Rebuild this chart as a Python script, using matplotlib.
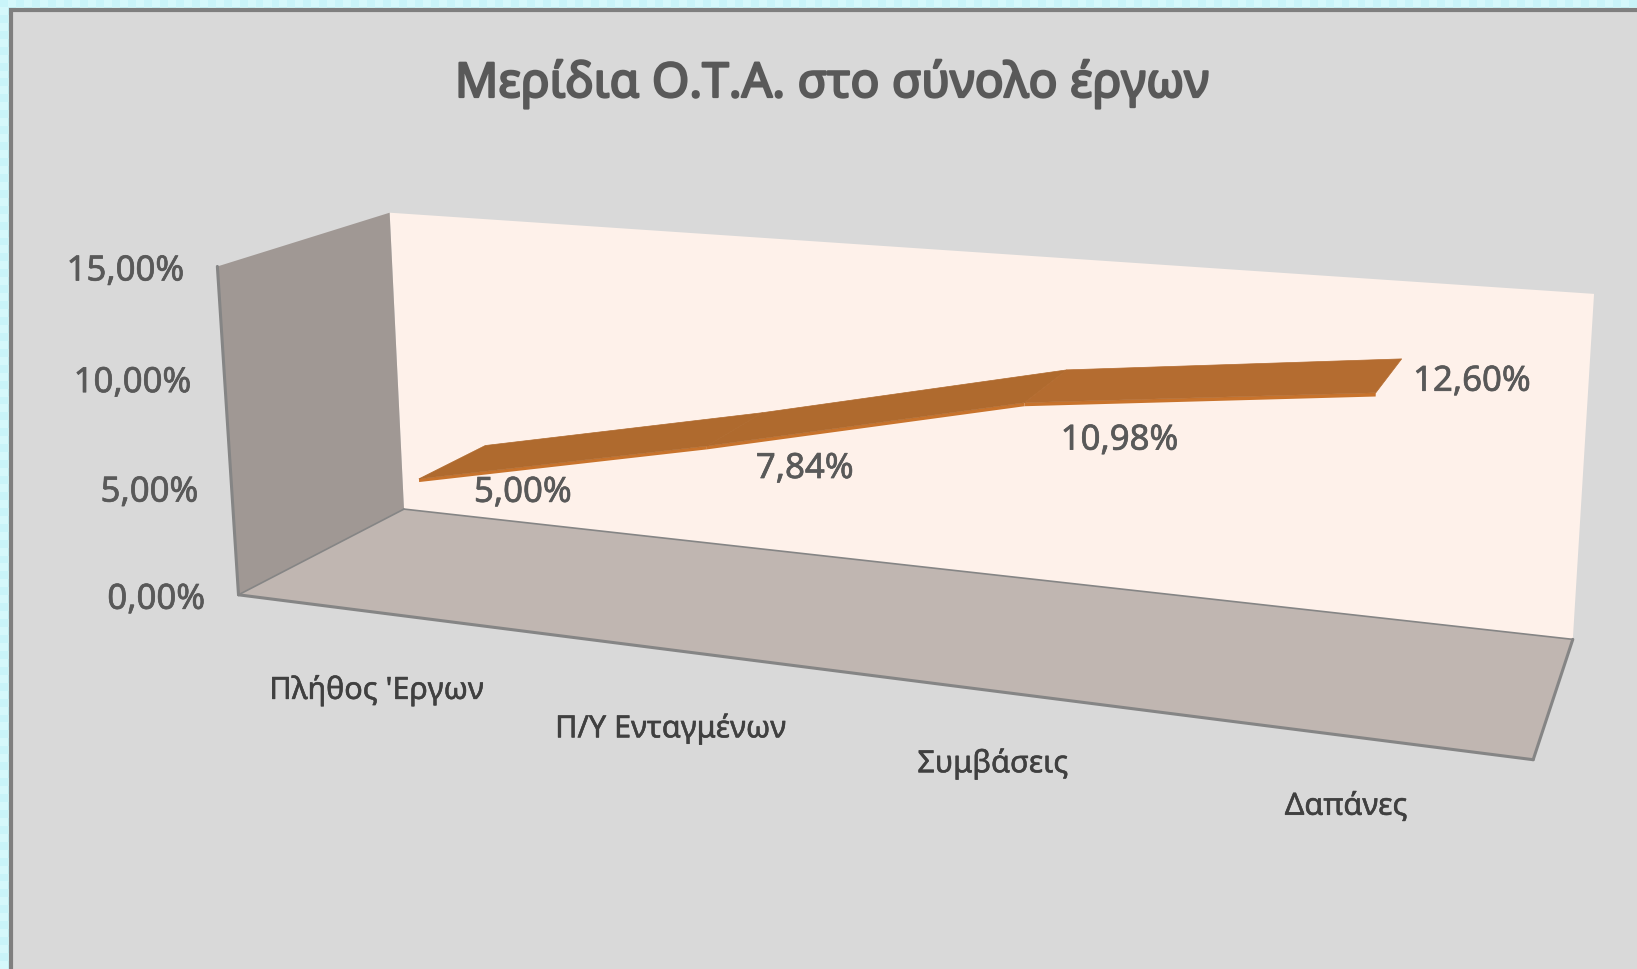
import numpy as np
import matplotlib
matplotlib.use("Agg")
import matplotlib.pyplot as plt
import matplotlib.patheffects as pe
from matplotlib.patches import Polygon, Rectangle

# ---- data ----
categories = ["Πλήθος 'Εργων", "Π/Υ Ενταγμένων", "Συμβάσεις", "Δαπάνες"]
shares = [5.00, 7.84, 10.98, 12.60]
axis_ticks = [0, 5, 10, 15]
title = "Μερίδια Ο.Τ.Α. στο σύνολο έργων"

# ---- styling / layout ----
plt.rcParams["font.family"] = ["Noto Sans", "DejaVu Sans"]
W, H = 1637, 970
BG, OUT, OUT2, FRAME = "#d9d9d9", "#c9f4f9", "#d5f8fb", "#7f7f7f"
TXT = "#595959"
Y_MAX = 15.0
N = len(categories)

# camera: box corners (cat, value, depth) -> image position, solved as a projective map
box = [(0, 0, 0), (0, Y_MAX, 0), (0, Y_MAX, 1), (0, 0, 1), (N, Y_MAX, 1), (N, 0, 1), (N, 0, 0)]
img = [(239, 596), (217, 267), (390, 214), (403.5, 510), (1594, 295), (1573, 640), (1533, 761)]
A = []
b = []
for (X, Y, Z), (u, v) in zip(box, img):
    A.append([X, Y, Z, 1, 0, 0, 0, 0, -u * X, -u * Y, -u * Z])
    b.append(u)
    A.append([0, 0, 0, 0, X, Y, Z, 1, -v * X, -v * Y, -v * Z])
    b.append(v)
sol = np.linalg.lstsq(np.array(A, float), np.array(b, float), rcond=None)[0]
P = np.append(sol, 1.0).reshape(3, 4)


def proj(x, y, z):
    p = P @ np.array([x, y, z, 1.0])
    return p[0] / p[2], p[1] / p[2]


fig = plt.figure(figsize=(W / 100, H / 100), dpi=100, facecolor=OUT)
ax = fig.add_axes([0, 0, 1, 1])

# faint tiled page background behind the chart area
tile = (np.indices((H // 8 + 1, W // 8 + 1)).sum(axis=0) % 2)
ax.imshow(tile, extent=(0, W, H, 0), aspect="auto", interpolation="bilinear",
          cmap=matplotlib.colors.ListedColormap([OUT, OUT2]), zorder=0)
ax.set_xlim(0, W)
ax.set_ylim(H, 0)
ax.axis("off")

# chart area
ax.add_patch(Rectangle((11, 11), W, H, fc=BG, ec=FRAME, lw=3, zorder=1))


def face(corners, fc, ec=None, lw=0, z=2):
    ax.add_patch(Polygon([proj(*c) for c in corners], closed=True, fc=fc,
                         ec=ec if ec else fc, lw=lw, zorder=z, joinstyle="round"))


# walls
face([(0, 0, 1), (N, 0, 1), (N, Y_MAX, 1), (0, Y_MAX, 1)], "#fef1ea")
face([(0, 0, 0), (0, 0, 1), (0, Y_MAX, 1), (0, Y_MAX, 0)], "#a09894")
face([(0, 0, 0), (N, 0, 0), (N, 0, 1), (0, 0, 1)], "#c0b6b1")


def edge(p0, p1, color="#858585", lw=2.2):
    a, c = proj(*p0), proj(*p1)
    ax.plot([a[0], c[0]], [a[1], c[1]], color=color, lw=lw, zorder=3, solid_capstyle="round")


edge((0, 0, 0), (N, 0, 0))
edge((N, 0, 0), (N, 0, 1))
edge((0, 0, 0), (0, Y_MAX, 0))
edge((0, 0, 1), (N, 0, 1), lw=1.2)
edge((0, 0, 0), (0, 0, 1), lw=1.2)

# ribbon
Z_FRONT, Z_BACK = 0.285, 0.71
THICK = 0.15
xs = [i + 0.5 for i in range(N)]
seg_cols = ["#af6a2e", "#af6a2e", "#b46c30"]
for i in range(N - 1):
    x0, x1, v0, v1 = xs[i], xs[i + 1], shares[i], shares[i + 1]
    face([(x0, v0, Z_FRONT), (x1, v1, Z_FRONT),
          (x1, v1 - THICK, Z_FRONT), (x0, v0 - THICK, Z_FRONT)], "#c8732c", z=4)
    face([(x0, v0, Z_FRONT), (x1, v1, Z_FRONT), (x1, v1, Z_BACK), (x0, v0, Z_BACK)],
         seg_cols[i], z=5, lw=0.5)

soft = [pe.withStroke(linewidth=0.5, foreground=TXT)]

# value axis labels
for t in axis_ticks:
    px, py = proj(0, t, 0)
    ax.text(px - 33, py + 5, f"{t:.2f}".replace(".", ",") + "%", ha="right", va="center",
            fontsize=25, color=TXT, zorder=6, path_effects=soft)

# category labels
cat_offsets = [(0, 78), (0, 79), (1, 73), (2, 71)]
for i, c in enumerate(categories):
    px, py = proj(xs[i], 0, 0)
    dx, dy = cat_offsets[i]
    ax.text(px + dx, py + dy, c, ha="center", va="center", fontsize=22, color="#404040", zorder=6,
            path_effects=[pe.withStroke(linewidth=0.4, foreground="#404040")])

# data labels
label_offsets = [(104, 14), (98, 23), (95, 38), (96, -11)]
for i, v in enumerate(shares):
    px, py = proj(xs[i], v, Z_FRONT)
    dx, dy = label_offsets[i]
    ax.text(px + dx, py + dy, f"{v:.2f}".replace(".", ",") + "%", ha="center", va="center",
            fontsize=25, color=TXT, zorder=6, path_effects=soft)

ax.text(832, 85, title, ha="center", va="center", fontsize=34.5, color=TXT, zorder=6,
        path_effects=[pe.withStroke(linewidth=1.6, foreground=TXT)])

fig.savefig("out.png", dpi=100, facecolor=OUT)
